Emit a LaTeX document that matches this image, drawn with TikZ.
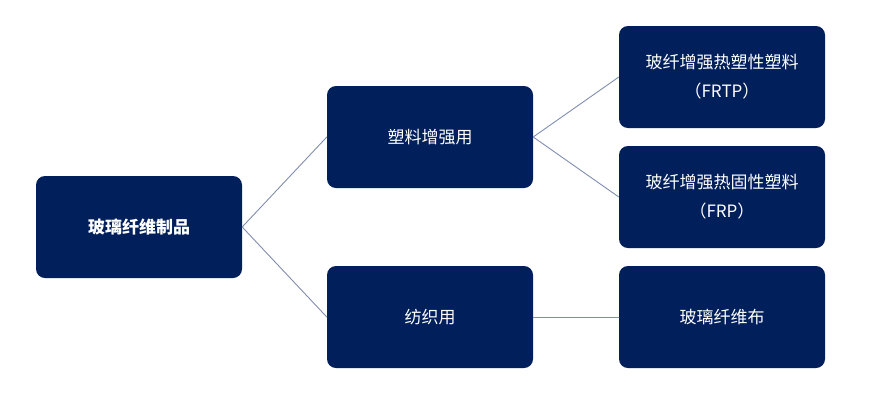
\documentclass[tikz,border=0pt]{standalone}
\usepackage{fontspec}
\setmainfont{Noto Sans CJK SC}
\definecolor{boxnavy}{HTML}{001F5B}
\definecolor{linkgray}{HTML}{7F8DB0}
\begin{document}
\begin{tikzpicture}[x=1pt,y=-1pt,line cap=round,line join=round,
	box/.style={draw=none,fill=boxnavy,rounded corners=9pt,minimum width=206pt,minimum height=102pt,inner sep=0pt,text=white,align=center,font=\fontsize{17}{29}\selectfont},
	link/.style={draw=linkgray,line width=0.9pt}]
	\useasboundingbox (0,0) rectangle (880,400);
	\node[box,font=\fontsize{17}{29}\selectfont\bfseries] (root) at (139,227) {玻璃纤维制品};
	\node[box] (plastic) at (430,137) {塑料增强用};
	\node[box] (textile) at (430,317) {纺织用};
	\node[box] (frtp) at (722,77) {玻纤增强热塑性塑料\\（FRTP）};
	\node[box] (frp) at (722,197) {玻纤增强热固性塑料\\（FRP）};
	\node[box] (cloth) at (722,317) {玻璃纤维布};
	\draw[link] (root.east) -- (plastic.west) (root.east) -- (textile.west);
	\draw[link] (plastic.east) -- (frtp.west) (plastic.east) -- (frp.west);
	\draw[link] (textile.east) -- (cloth.west);
\end{tikzpicture}
\end{document}
